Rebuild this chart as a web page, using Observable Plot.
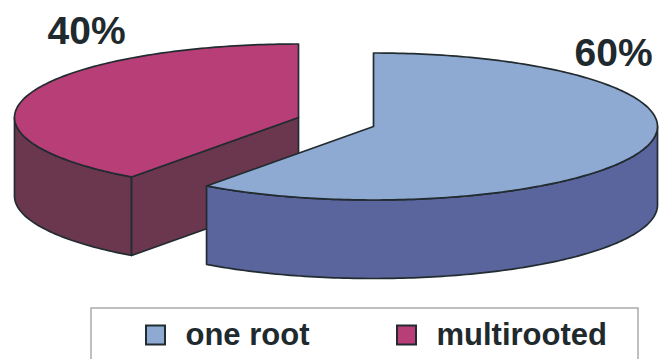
<!DOCTYPE html>
<html>
<head>
<meta charset="utf-8">
<script src="https://cdn.jsdelivr.net/npm/d3@7"></script>
<script src="https://cdn.jsdelivr.net/npm/@observablehq/plot@0.6"></script>
<style>
  html, body { margin: 0; padding: 0; background: #fff; }
  svg { display: block; }
</style>
</head>
<body>
<div id="chart"></div>
<script>
// Share of teeth by root type
const parts = ["one root", "multirooted"];
const shares = [60, 40];
const topColours = ["#8FAAD2", "#B83E78"];
const sideColours = ["#5A659E", "#6B374E"];

// Pie drawing parameters, in chart units
const centres = [[373, 126], [298, 117]];
const radiusX = 284;
const radiusY = 73.5;
const depth = 78.5;
const ink = "#222C30";
const fontFamily = "'Liberation Sans', Arial, sans-serif";

const WIDTH = 664, HEIGHT = 359;
const total = d3.sum(shares);
const starts = shares.map((_, i) => d3.sum(shares.slice(0, i)) / total * 360);
const ends = shares.map((_, i) => d3.sum(shares.slice(0, i + 1)) / total * 360);

// Point on the tilted rim, clockwise from twelve o'clock, dropped by dz
function rim([cx, cy], deg, dz = 0) {
  const a = deg * Math.PI / 180;
  return [cx + radiusX * Math.sin(a), cy - radiusY * Math.cos(a) + dz];
}
function arc(c, from, to, dz = 0) {
  const n = Math.max(2, Math.ceil(Math.abs(to - from)));
  return d3.range(n + 1).map(i => rim(c, from + (to - from) * i / n, dz));
}
const closed = pts => [...pts, pts[0]];

// Top face: apex plus rim
const topFace = i => closed([centres[i], ...arc(centres[i], starts[i], ends[i])]);
// Curved outer wall, only where the rim faces the viewer (90° to 270°)
function outerWall(i) {
  const from = Math.max(starts[i], 90), to = Math.min(ends[i], 270);
  return closed([...arc(centres[i], from, to), ...arc(centres[i], to, from, depth)]);
}
// Flat cut wall running from the rim back to the apex
function cutWall(i, deg) {
  const c = centres[i], p = rim(c, deg);
  return closed([p, c, [c[0], c[1] + depth], [p[0], p[1] + depth]]);
}

const face = (pts, fill) => Plot.line(pts, {
  x: d => d[0], y: d => d[1], fill, stroke: ink, strokeWidth: 1.7, strokeLinejoin: "round"
});

const percentLabels = [
  { text: `${shares[0]}%`, x: 574, y: 65 },
  { text: `${shares[1]}%`, x: 47, y: 43 }
];
const legendItems = [
  { name: parts[0], x: 146, colour: topColours[0] },
  { name: parts[1], x: 397, colour: topColours[1] }
];
const swatch = 19;
const legendBox = { x1: 91, x2: 638, y1: 308, y2: 372 };
const legendMiddle = 335;

const chart = Plot.plot({
  width: WIDTH,
  height: HEIGHT,
  margin: 0,
  x: { domain: [0, WIDTH], range: [0, WIDTH], axis: null },
  y: { domain: [0, HEIGHT], range: [0, HEIGHT], axis: null },
  style: { background: "#fff", fontFamily },
  marks: [
    // Rear slice first so the front slice overlaps it
    face(outerWall(1), sideColours[1]),
    face(cutWall(1, starts[1]), sideColours[1]),
    face(topFace(1), topColours[1]),
    face(outerWall(0), sideColours[0]),
    face(topFace(0), topColours[0]),
    Plot.text(percentLabels, {
      x: "x", y: "y", text: "text", textAnchor: "start", lineAnchor: "bottom",
      fontSize: 39, fontWeight: "bold", fill: "#1F2A2E"
    }),
    Plot.rect([legendBox], {
      x1: "x1", x2: "x2", y1: "y1", y2: "y2",
      fill: "#fff", stroke: "#ABABAB", strokeWidth: 1.5
    }),
    Plot.rect(legendItems, {
      x1: "x", x2: d => d.x + swatch,
      y1: legendMiddle - swatch / 2, y2: legendMiddle + swatch / 2,
      fill: "colour", stroke: ink, strokeWidth: 2
    }),
    Plot.text(legendItems, {
      x: d => d.x + 39, y: legendMiddle, text: "name", textAnchor: "start",
      fontSize: 31, fontWeight: "bold", fill: "#1F2A2E"
    })
  ]
});
document.getElementById("chart").append(chart);
</script>
</body>
</html>
